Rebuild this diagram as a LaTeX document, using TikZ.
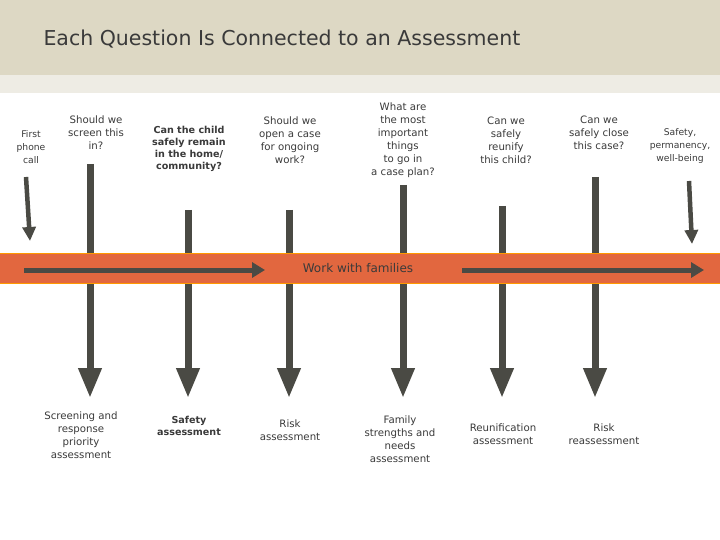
\documentclass[tikz,border=0pt]{standalone}
\usepackage{fontspec}
\setmainfont{DejaVu Sans}
\usetikzlibrary{arrows.meta}
\definecolor{hdr}{HTML}{DDD8C4}
\definecolor{hdr2}{HTML}{EEECE4}
\definecolor{band}{HTML}{E2673F}
\definecolor{ln}{HTML}{4A4A44}
\definecolor{tx}{HTML}{3A3A3A}
\begin{document}
\begin{tikzpicture}[x=1pt,y=-1pt,
  lbl/.style={align=center,font=\fontsize{10.2}{13}\selectfont,text=tx,inner sep=0},
  blbl/.style={lbl,font=\fontsize{9.6}{12}\bfseries\selectfont},
  bigarr/.style={ln,line width=7pt,-{Triangle[width=22pt,length=30pt]}},
  smarr/.style={ln,line width=4.5pt,-{Triangle[width=13pt,length=14pt]}},
  harr/.style={ln,line width=5pt,-{Triangle[width=15pt,length=13pt]}}]
\useasboundingbox (0,0) rectangle (720,540);
\fill[white] (0,0) rectangle (720,540);
\fill[hdr] (0,0) rectangle (720,75);
\fill[hdr2] (0,75) rectangle (720,93);
\node[anchor=west,font=\fontsize{20.5}{24}\selectfont,text=tx] (title) at (40,39) {Each Question Is Connected to an Assessment};
\coordinate (t1) at (90,164); \coordinate (b1) at (90,398);
\coordinate (t2) at (188,210); \coordinate (b2) at (188,398);
\coordinate (t3) at (289,210); \coordinate (b3) at (289,398);
\coordinate (t4) at (403,185); \coordinate (b4) at (403,398);
\coordinate (t5) at (502,206); \coordinate (b5) at (502,398);
\coordinate (t6) at (595,177); \coordinate (b6) at (595,398);
\foreach \i in {1,...,6} \draw[bigarr] (t\i) -- (b\i);
\draw[smarr] (26,177) coordinate (s1) -- (30,241) coordinate (e1);
\draw[smarr] (689,181) coordinate (s2) -- (692,244) coordinate (e2);
\fill[band] (0,253) rectangle (720,283);
\draw[orange!80!yellow,line width=0.8pt] (0,253) -- (720,253) (0,283) -- (720,283);
\node[lbl,font=\fontsize{12}{14}\selectfont] (work) at (358,268) {Work with families};
\coordinate (h1) at (24,270); \coordinate (h2) at (265,270);
\coordinate (h3) at (462,270); \coordinate (h4) at (704,270);
\draw[harr] (h1) -- (h2);
\draw[harr] (h3) -- (h4);
\node[lbl,font=\fontsize{9.2}{13}\selectfont] (q0) at (31,147) {First\\phone\\call};
\node[lbl] (q1) at (96,133) {Should we\\screen this\\in?};
\node[blbl] (q2) at (189,149) {Can the child\\safely remain\\in the home/\\community?};
\node[lbl] (q3) at (290,140) {Should we\\open a case\\for ongoing\\work?};
\node[lbl] (q4) at (403,140) {What are\\the most\\important\\things\\to go in\\a case plan?};
\node[lbl] (q5) at (506,140) {Can we\\safely\\reunify\\this child?};
\node[lbl] (q6) at (599,133) {Can we\\safely close\\this case?};
\node[lbl,font=\fontsize{9.2}{13}\selectfont] (q7) at (680,146) {Safety,\\permanency,\\well-being};
\node[lbl] (a1) at (81,435) {Screening and\\response\\priority\\assessment};
\node[blbl] (a2) at (189,426) {Safety\\assessment};
\node[lbl] (a3) at (290,430) {Risk\\assessment};
\node[lbl] (a4) at (400,439) {Family\\strengths and\\needs\\assessment};
\node[lbl] (a5) at (503,434) {Reunification\\assessment};
\node[lbl] (a6) at (604,434) {Risk\\reassessment};
\end{tikzpicture}
\end{document}
